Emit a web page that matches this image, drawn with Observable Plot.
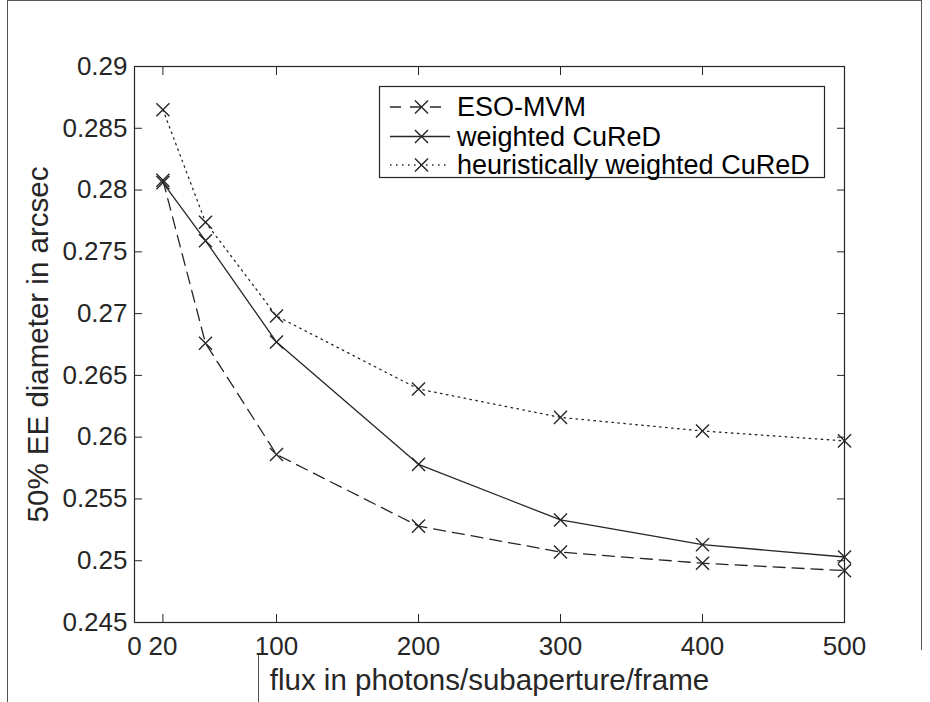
<!DOCTYPE html>
<html><head><meta charset="utf-8">
<script src="https://cdn.jsdelivr.net/npm/d3@7"></script>
<script src="https://cdn.jsdelivr.net/npm/@observablehq/plot@0.6"></script>
<style>
body{margin:0;background:#fff;}
#wrap{position:relative;width:930px;height:702px;overflow:hidden;font-family:"Liberation Sans",Arial,sans-serif;background:#fff;}
#wrap svg{display:block;}
.edge{position:absolute;background:#555;}
#legend{position:absolute;left:379px;top:86px;}
</style></head><body>
<div id="wrap">
  <div class="edge" style="left:7px;top:0;width:1px;height:702px"></div>
  <div class="edge" style="left:7px;top:0;width:915px;height:1px"></div>
  <div class="edge" style="left:921px;top:0;width:1px;height:650px"></div>
  <div class="edge" style="left:258px;top:655px;width:1px;height:47px"></div>
  <div id="chart"></div>
  <div id="legend"></div>
</div>
<script>
// ---- data ----
const flux = [20, 50, 100, 200, 300, 400, 500];
const esoMvm = [0.2808, 0.2676, 0.2586, 0.2528, 0.2507, 0.2498, 0.2492];
const weightedCured = [0.2806, 0.2759, 0.2677, 0.2578, 0.2533, 0.2513, 0.2503];
const heuristicCured = [0.2865, 0.2774, 0.2698, 0.2639, 0.2616, 0.2605, 0.2597];
const seriesNames = ["ESO-MVM", "weighted CuReD", "heuristically weighted CuReD"];
const xTicks = [0, 20, 100, 200, 300, 400, 500];
const yTicks = [0.245, 0.25, 0.255, 0.26, 0.265, 0.27, 0.275, 0.28, 0.285, 0.29];
const xLabel = "flux in photons/subaperture/frame";
const yLabel = "50% EE diameter in arcsec";

const ink = "#262626";
const font = "'Liberation Sans', Arial, Helvetica, sans-serif";
const dashes = {"ESO-MVM": "12,7", "weighted CuReD": null, "heuristically weighted CuReD": "1.5,4.5"};

const seriesValues = [esoMvm, weightedCured, heuristicCured];
const rows = seriesNames.flatMap((s, k) => flux.map((f, i) => ({s, x: f, y: seriesValues[k][i]})));

const lineMarks = seriesNames.map(s =>
  Plot.line(rows.filter(d => d.s === s), {x: "x", y: "y", stroke: ink, strokeWidth: 1.3,
    strokeDasharray: dashes[s] || undefined}));

const chart = Plot.plot({
  width: 930, height: 702,
  marginLeft: 134, marginRight: 86, marginTop: 66, marginBottom: 80,
  style: {fontFamily: font, color: ink, background: "transparent"},
  x: {domain: [0, 500]},
  y: {domain: [0.245, 0.29]},
  marks: [
    Plot.frame({stroke: ink, strokeWidth: 1.2}),
    // labels
    Plot.axisX(xTicks, {anchor: "bottom", tickSize: 0, tickPadding: 14, fontSize: 26, label: null, tickFormat: d => String(d)}),
    Plot.axisY(yTicks, {anchor: "left", tickSize: 0, tickPadding: 7, fontSize: 26, label: null, tickFormat: d => String(+d.toFixed(3))}),
    // inward ticks on all four sides
    Plot.axisX(xTicks, {anchor: "bottom", tickSize: 8, dy: -8, text: null, label: null, stroke: ink}),
    Plot.axisX(xTicks, {anchor: "top", tickSize: 8, dy: 8, text: null, label: null, stroke: ink}),
    Plot.axisY(yTicks, {anchor: "left", tickSize: 8, dx: 8, text: null, label: null, stroke: ink}),
    Plot.axisY(yTicks, {anchor: "right", tickSize: 8, dx: -8, text: null, label: null, stroke: ink}),
    Plot.text([xLabel], {frameAnchor: "bottom", textAnchor: "middle", lineAnchor: "middle", dy: 58, fontSize: 29.5, fill: ink}),
    Plot.text([yLabel], {frameAnchor: "left", textAnchor: "middle", lineAnchor: "middle", dx: -96, rotate: -90, fontSize: 29.5, fill: ink}),
    ...lineMarks,
    Plot.dot(rows, {x: "x", y: "y", symbol: "times", r: 6, stroke: ink, strokeWidth: 1.4})
  ]
});
document.getElementById("chart").appendChild(chart);

// ---- legend (overlay box inside the axes, like the original) ----
const lg = d3.select("#legend").append("svg").attr("width", 470).attr("height", 92)
  .style("font-family", font).style("overflow", "visible");
lg.append("rect").attr("x", 0.5).attr("y", 0.5).attr("width", 445).attr("height", 91)
  .attr("fill", "#fff").attr("stroke", ink).attr("stroke-width", 1.2);
const rowY = [21, 50.5, 79];
seriesNames.forEach((s, i) => {
  const g = lg.append("g").attr("transform", `translate(0,${rowY[i]})`);
  g.append("line").attr("x1", 11).attr("x2", 71).attr("y1", 0).attr("y2", 0)
    .attr("stroke", ink).attr("stroke-width", 1.3)
    .attr("stroke-dasharray", dashes[s] ? (s === "ESO-MVM" ? "11,9" : dashes[s]) : null);
  g.append("path").attr("d", d3.symbol(d3.symbolTimes, 113)()).attr("transform", "translate(42.5,0)")
    .attr("fill", "none").attr("stroke", ink).attr("stroke-width", 1.4);
  g.append("text").attr("x", 78).attr("y", 0).attr("dy", "0.35em")
    .attr("font-size", 27).attr("fill", "#000").text(s);
});
</script>
</body></html>
